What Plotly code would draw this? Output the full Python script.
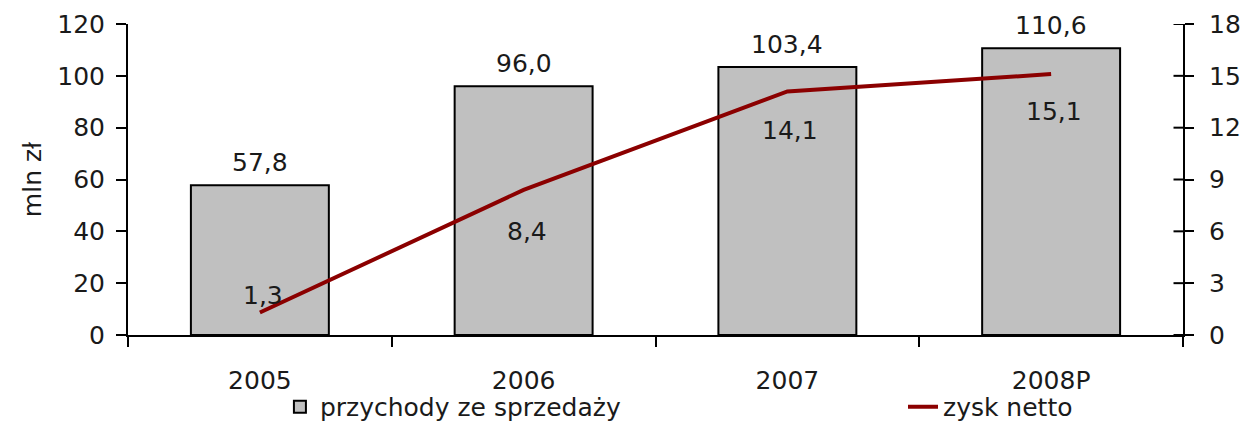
import plotly.graph_objects as go

categories = ["2005", "2006", "2007", "2008P"]
revenue = [57.8, 96.0, 103.4, 110.6]
net_profit = [1.3, 8.4, 14.1, 15.1]
revenue_labels = ["57,8", "96,0", "103,4", "110,6"]
profit_labels = ["1,3", "8,4", "14,1", "15,1"]
profit_label_shift = [17, -42, -39, -37]
right_ticks = [0, 3, 6, 9, 12, 15, 18]

FONT = "DejaVu Sans"
TXT = "#1a1a1a"
FS = 25

fig = go.Figure()
fig.add_trace(go.Bar(
    x=categories, y=revenue, name="przychody ze sprzedaży",
    marker=dict(color="#c0c0c0", line=dict(color="#000000", width=2)),
    yaxis="y", legend="legend",
))
fig.add_trace(go.Scatter(
    x=categories, y=net_profit, name="zysk netto", mode="lines",
    line=dict(color="#8b0000", width=4), yaxis="y2", legend="legend2",
))

annotations = []
for i, (v, t) in enumerate(zip(revenue, revenue_labels)):
    annotations.append(dict(x=i, y=v, xref="x", yref="y", text=t, showarrow=False,
                            yanchor="middle", yshift=23, font=dict(family=FONT, size=FS, color=TXT)))
for i, (v, t, s) in enumerate(zip(net_profit, profit_labels, profit_label_shift)):
    annotations.append(dict(x=i, y=v, xref="x", yref="y2", text=t, showarrow=False,
                            yanchor="middle", yshift=s, xshift=3, font=dict(family=FONT, size=FS, color=TXT)))

fig.update_layout(
    width=1243, height=421,
    margin=dict(l=128, r=60, t=24, b=86, autoexpand=False),
    paper_bgcolor="white", plot_bgcolor="white",
    font=dict(family=FONT, size=FS, color=TXT),
    bargap=0.477,
    showlegend=True,
    xaxis=dict(type="category", categoryorder="array", categoryarray=categories,
               range=[-0.5, len(categories) - 0.5], automargin=False,
               showline=True, linecolor="black", linewidth=2,
               ticks="outside", tickson="boundaries", ticklen=10, tickwidth=2, tickcolor="black",
               showgrid=False, tickfont=dict(size=FS), tickangle=0, ticklabelstandoff=22),
    yaxis=dict(range=[0, 120], dtick=20, showline=True, linecolor="black", linewidth=2,
               ticks="outside", ticklen=10, tickwidth=2, tickcolor="black", showgrid=False,
               zeroline=False, automargin=False,
               title=dict(text="mln zł", font=dict(size=FS), standoff=9),
               tickfont=dict(size=FS), ticklabelstandoff=6),
    yaxis2=dict(range=[0, 18], dtick=3, overlaying="y", side="right", showline=True,
                linecolor="black", linewidth=2, ticks="outside", ticklen=9, tickwidth=2,
                tickcolor="black", showgrid=False, zeroline=False, automargin=False,
                tickfont=dict(size=FS), ticklabelstandoff=10),
    legend=dict(x=0.144, y=-0.2315, xanchor="left", yanchor="middle", orientation="h",
                font=dict(size=FS), bgcolor="rgba(0,0,0,0)"),
    legend2=dict(x=0.7346, y=-0.2315, xanchor="left", yanchor="middle", orientation="h",
                 font=dict(size=FS), bgcolor="rgba(0,0,0,0)"),
    annotations=annotations,
)
# inner half of the crossing ticks on the right axis
for t in right_ticks:
    fig.add_shape(type="line", xref="paper", yref="y2", x0=1, x1=0.991, y0=t, y1=t,
                  line=dict(color="black", width=2))

fig.write_html(
    "out.html",
    config={"displayModeBar": False},
    post_script="document.body.style.margin='0';document.body.style.overflow='hidden';",
)
